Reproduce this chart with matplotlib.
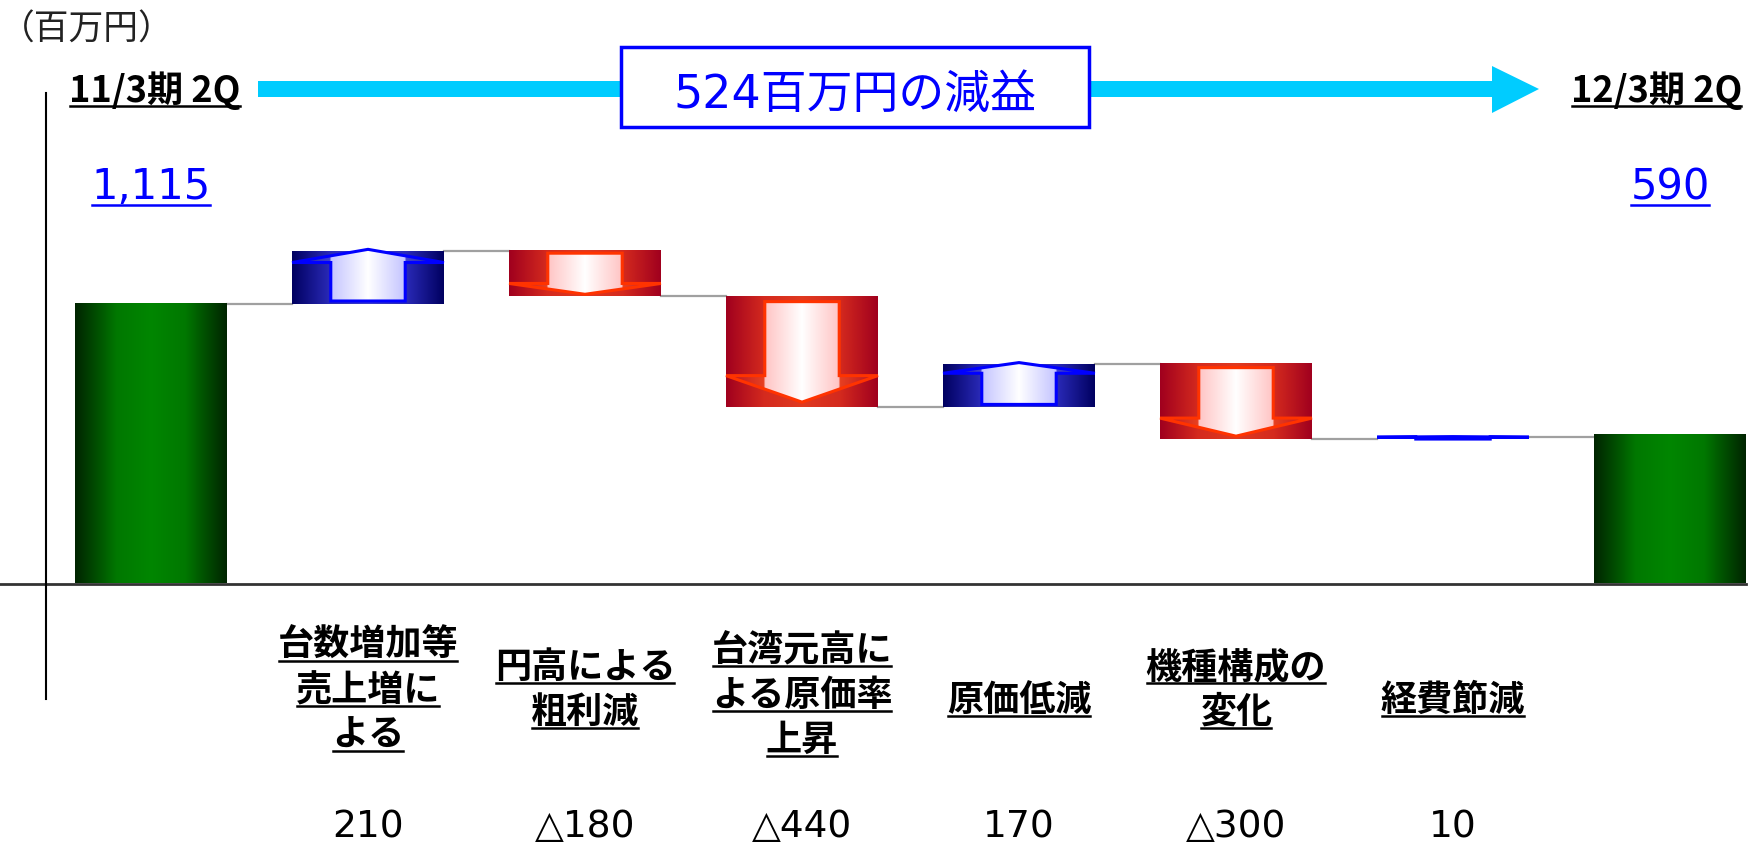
import numpy as np
import matplotlib
matplotlib.use('Agg')
import matplotlib.pyplot as plt
import matplotlib.colors as mcolors
from matplotlib.patches import Polygon, Rectangle
from matplotlib.lines import Line2D
from matplotlib import transforms

# --- data ---
unit_label = '（百万円）'
headline = '524百万円の減益'
start_label = '11/3期 2Q'
end_label = '12/3期 2Q'
start_value = 1115
end_value = 590
start_text = '1,115'
end_text = '590'
categories = [['台数増加等', '売上増に', 'よる'],
              ['円高による', '粗利減'],
              ['台湾元高に', 'よる原価率', '上昇'],
              ['原価低減'],
              ['機種構成の', '変化'],
              ['経費節減']]
changes = [210, -180, -440, 170, -300, 10]
change_labels = ['210', '△180', '△440', '170', '△300', '10']

# --- layout (pixels of the 1756x843 canvas) ---
W, H = 1756, 843
x0_px, step_px = 151, 217        # first bar centre, bar pitch
base_px, px_per_unit = 583.5, 0.251
bw = 0.70
cat_first_baseline = [656, 678, 661, 711, 678, 711]
line_gap = 45

JP = 'Noto Sans CJK JP'

fig = plt.figure(figsize=(W / 100, H / 100), dpi=100)
ax = fig.add_axes([0, 0, 1, 1])
ax.axis('off')


def fx(x):
    return x / W


def fy(y):
    return 1 - y / H


def grad_fill(xa, xb, ya, yb, stops, clip=None, z=2):
    t = np.abs(np.linspace(-1, 1, 300))
    ts = [s[0] for s in stops]
    cols = np.array([mcolors.to_rgb(s[1]) for s in stops])
    img = np.stack([np.interp(t, ts, cols[:, k]) for k in range(3)], axis=-1)
    im = ax.imshow(img[None, :, :], extent=[xa, xb, ya, yb], aspect='auto',
                   interpolation='bilinear', zorder=z)
    if clip is not None:
        im.set_clip_path(clip)
    return im


green = [(0, '#008600'), (0.45, '#007800'), (1, '#002400')]
blue_bar = [(0, '#3a3ad0'), (0.5, '#2a2ab8'), (1, '#000060')]
blue_arrow = [(0, '#ffffff'), (0.49, '#c4c4ff'), (0.5, '#4040d0'), (1, '#20209a')]
red_bar = [(0, '#e03a20'), (0.5, '#d42a1e'), (1, '#a0001e')]
red_arrow = [(0, '#ffffff'), (0.49, '#ffc4c4'), (0.5, '#e84020'), (1, '#b81020')]

# start / end bars
grad_fill(-bw / 2, bw / 2, 0, start_value, green)
grad_fill(7 - bw / 2, 7 + bw / 2, 0, end_value, green)

levels = np.concatenate([[start_value], start_value + np.cumsum(changes)])

for i, d in enumerate(changes):
    x = i + 1
    lo, hi = sorted([levels[i], levels[i + 1]])
    h = hi - lo
    sw = 0.49 * bw / 2
    if d > 0:
        grad_fill(x - bw / 2, x + bw / 2, lo, hi, blue_bar)
        hb = lo + 0.78 * h
        pts = [(x - sw, lo + 0.05 * h), (x + sw, lo + 0.05 * h), (x + sw, hb),
               (x + bw / 2, hb), (x, hi + 0.03 * h), (x - bw / 2, hb), (x - sw, hb)]
        ec, stops = '#0000ff', blue_arrow
        top = hi + 0.03 * h
    else:
        grad_fill(x - bw / 2, x + bw / 2, lo, hi, red_bar)
        hb = lo + 0.28 * h
        pts = [(x - sw, hi - 0.05 * h), (x + sw, hi - 0.05 * h), (x + sw, hb),
               (x + bw / 2, hb), (x, lo + 0.04 * h), (x - bw / 2, hb), (x - sw, hb)]
        ec, stops = '#ff3300', red_arrow
        top = hi
    arrow = Polygon(pts, closed=True, fill=False, edgecolor=ec, lw=2.2,
                    joinstyle='miter', zorder=4)
    ax.add_patch(arrow)
    grad_fill(x - bw / 2, x + bw / 2, lo, top, stops, clip=arrow, z=3)

# connector lines
for i in range(len(levels)):
    ax.plot([i + bw / 2, i + 1 - bw / 2], [levels[i], levels[i]],
            color='#a0a0a0', lw=1.6, zorder=1)

# base line
ax.plot([-0.7, 7 + bw / 2], [0, 0], color='#333333', lw=2, zorder=5)

ax.set_xlim(-x0_px / step_px, (W - x0_px) / step_px)
ax.set_ylim(-(H - base_px) / px_per_unit, base_px / px_per_unit)

# vertical axis line
fig.add_artist(Line2D([fx(46), fx(46)], [fy(93), fy(699)], color='black', lw=1.5))

# cyan arrow and headline box
arr = [(258, 81), (1492, 81), (1492, 66), (1539, 89), (1492, 113), (1492, 97), (258, 97)]
fig.add_artist(Polygon([(fx(a), fy(b)) for a, b in arr], closed=True,
                       transform=fig.transFigure, fc='#00ccff', ec='none'))
fig.add_artist(Rectangle((fx(621), fy(127)), (1089 - 621) / W, (127 - 47) / H,
                         transform=fig.transFigure, fc='white', ec='#0000ff', lw=2.5))
fig.text(fx(855), fy(108), headline, ha='center', va='baseline', fontsize=33,
         color='#0000ff', family=['DejaVu Sans', JP])

fig.text(fx(0), fy(40), unit_label, ha='left', va='baseline', fontsize=25,
         color='#222222', family=JP)

blend = transforms.blended_transform_factory(ax.transData, fig.transFigure)
underlines = []

t = fig.text(fx(69), fy(102), start_label, ha='left', va='baseline', fontsize=26,
             fontweight='bold', family=JP)
underlines.append((t, 105.5))
t = fig.text(fx(1571), fy(102), end_label, ha='left', va='baseline', fontsize=26,
             fontweight='bold', family=JP)
underlines.append((t, 105.5))

t = fig.text(0, fy(199), start_text, transform=blend, ha='center', va='baseline',
             fontsize=30, color='#0000ff', family='DejaVu Sans')
underlines.append((t, 205))
t = fig.text(7, fy(199), end_text, transform=blend, ha='center', va='baseline',
             fontsize=30, color='#0000ff', family='DejaVu Sans')
underlines.append((t, 205))

for i, lines in enumerate(categories):
    for k, s in enumerate(lines):
        yb = cat_first_baseline[i] + k * line_gap
        t = fig.text(i + 1, fy(yb), s, transform=blend, ha='center', va='baseline',
                     fontsize=26, fontweight='bold', family=JP)
        underlines.append((t, yb + 5))

for i, s in enumerate(change_labels):
    fig.text(i + 1, fy(837), s, transform=blend, ha='center', va='baseline',
             fontsize=27, family=['DejaVu Sans', JP])

fig.canvas.draw()
renderer = fig.canvas.get_renderer()
for t, uy in underlines:
    bb = t.get_window_extent(renderer)
    fig.add_artist(Line2D([bb.x0 + 1, bb.x1 - 1], [H - uy, H - uy], color=t.get_color(),
                          lw=1.8, transform=transforms.IdentityTransform()))

fig.savefig('out.png', dpi=100, facecolor='white')
